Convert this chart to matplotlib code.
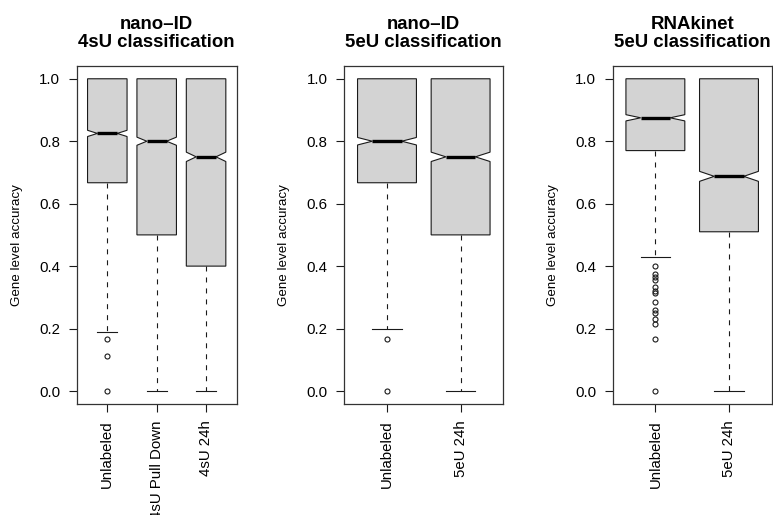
import numpy as np
import matplotlib
matplotlib.use('Agg')
import matplotlib.pyplot as plt

plt.rcParams['font.family'] = ['Liberation Sans', 'DejaVu Sans']
plt.rcParams['lines.scale_dashes'] = False

# Panel titles
titles = ['nano–ID\n4sU classification',
          'nano–ID\n5eU classification',
          'RNAkinet\n5eU classification']

# Group labels per panel
labels_p1 = ['Unlabeled', '4sU Pull Down', '4sU 24h']
labels_p2 = ['Unlabeled', '5eU 24h']
labels_p3 = ['Unlabeled', '5eU 24h']

# Box statistics (per group)
med_p1 = [0.825, 0.80, 0.75]
q1_p1 = [0.667, 0.50, 0.40]
q3_p1 = [1.0, 1.0, 1.0]
wlo_p1 = [0.1875, 0.0, 0.0]
whi_p1 = [1.0, 1.0, 1.0]
notch_p1 = [0.010, 0.013, 0.015]
fliers_p1 = [[0.1667, 0.1111, 0.0], [], []]

med_p2 = [0.80, 0.75]
q1_p2 = [0.667, 0.50]
q3_p2 = [1.0, 1.0]
wlo_p2 = [0.20, 0.0]
whi_p2 = [1.0, 1.0]
notch_p2 = [0.012, 0.015]
fliers_p2 = [[0.1667, 0.0], []]

med_p3 = [0.875, 0.6875]
q1_p3 = [0.77, 0.51]
q3_p3 = [1.0, 1.0]
wlo_p3 = [0.4286, 0.0]
whi_p3 = [1.0, 1.0]
notch_p3 = [0.010, 0.016]
fliers_p3 = [[0.4, 0.375, 0.3636, 0.3571, 0.3333, 0.3214, 0.3125, 0.2857,
              0.2581, 0.25, 0.2308, 0.2143, 0.1667, 0.0], []]

yticks = [0.0, 0.2, 0.4, 0.6, 0.8, 1.0]


def make_stats(med, q1, q3, wlo, whi, notch, fliers):
    stats = []
    for i in range(len(med)):
        stats.append(dict(med=med[i], q1=q1[i], q3=q3[i],
                          whislo=wlo[i], whishi=whi[i],
                          cilo=med[i] - notch[i], cihi=med[i] + notch[i],
                          fliers=np.array(fliers[i])))
    return stats


def draw_panel(ax, stats, labels, title):
    n = len(stats)
    ax.bxp(stats, positions=np.arange(1, n + 1), widths=0.8,
           shownotches=True, patch_artist=True,
           boxprops=dict(facecolor='#d3d3d3', edgecolor='#1a1a1a',
                         linewidth=0.8, zorder=2.5),
           medianprops=dict(color='black', linewidth=2.4,
                            solid_capstyle='butt', zorder=3),
           whiskerprops=dict(color='#1a1a1a', linewidth=0.8,
                             linestyle=(0, (3.6, 4.3)), zorder=2),
           capprops=dict(color='#1a1a1a', linewidth=0.8, zorder=2),
           flierprops=dict(marker='o', markerfacecolor='none',
                           markeredgecolor='#1a1a1a', markersize=3.6,
                           markeredgewidth=0.8, linestyle='none'))

    ax.set_xlim(0.5 - 0.04 * n, n + 0.5 + 0.04 * n)
    ax.set_ylim(-0.04, 1.04)
    ax.set_yticks(yticks)
    ax.set_yticklabels(['%.1f' % v for v in yticks])
    ax.set_xticks(np.arange(1, n + 1))
    ax.set_xticklabels(labels, rotation=90, va='top', ha='center')

    ax.tick_params(axis='both', direction='out', length=6, width=0.8,
                   color='#1a1a1a', labelsize=10.8, pad=6)
    for s in ax.spines.values():
        s.set_linewidth(0.9)
        s.set_color('#333333')

    ax.text(0.5, 1.0 + 19 / 337, title, transform=ax.transAxes,
            ha='center', va='baseline', fontsize=13.4, fontweight='bold',
            linespacing=1.08)


fig = plt.figure(figsize=(7.73, 5.15), dpi=100)
fig.set_facecolor('#FFFFFF')

bottom, height = 0.2165, 0.6548
lefts = [0.0992, 0.4454, 0.7926]
widths = [0.2070, 0.2057, 0.2057]

panels = [
    (make_stats(med_p1, q1_p1, q3_p1, wlo_p1, whi_p1, notch_p1, fliers_p1), labels_p1),
    (make_stats(med_p2, q1_p2, q3_p2, wlo_p2, whi_p2, notch_p2, fliers_p2), labels_p2),
    (make_stats(med_p3, q1_p3, q3_p3, wlo_p3, whi_p3, notch_p3, fliers_p3), labels_p3),
]

for i, (stats, labels) in enumerate(panels):
    ax = fig.add_axes([lefts[i], bottom, widths[i], height])
    draw_panel(ax, stats, labels, titles[i])
    # y label
    fig.text(lefts[i] - 60 / 773, 1 - 245 / 515, 'Gene level accuracy',
             rotation=90, ha='center', va='center', fontsize=9.6)

fig.savefig('out.png', dpi=100)
